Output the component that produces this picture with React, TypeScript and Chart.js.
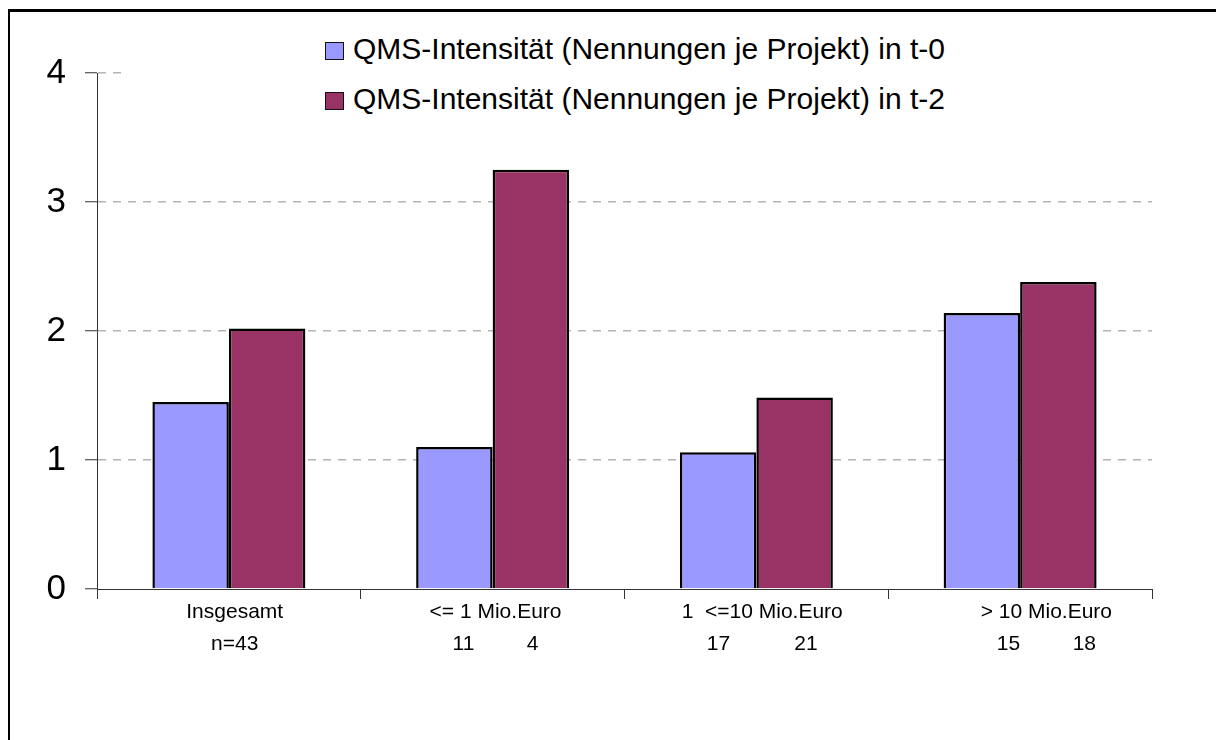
import React, { useEffect, useRef } from "react";
import { Chart, registerables } from "chart.js";

Chart.register(...registerables);

const FONT = "'Liberation Sans', Arial, sans-serif";

const categories: string[][] = [
  ["  Insgesamt", "  n=43"],
  [" <= 1 Mio.Euro", " 11         4"],
  ["  1  <=10 Mio.Euro", "  17           21"],
  ["         > 10 Mio.Euro", "         15         18"],
];
const seriesLabels = [
  "QMS-Intensität (Nennungen je Projekt) in t-0",
  "QMS-Intensität (Nennungen je Projekt) in t-2",
];
const seriesT0 = [1.45, 1.1, 1.06, 2.14];
const seriesT2 = [2.02, 3.25, 1.485, 2.38];
const seriesColors = ["#9999FF", "#993366"];
const yMin = 0;
const yMax = 4;
const yStep = 1;

export default function App() {
  const canvasRef = useRef<HTMLCanvasElement | null>(null);

  useEffect(() => {
    if (!canvasRef.current) return;
    const chart = new Chart(canvasRef.current, {
      type: "bar",
      data: {
        labels: categories,
        datasets: [
          {
            label: seriesLabels[0],
            data: seriesT0,
            backgroundColor: seriesColors[0],
            borderColor: "#000",
            borderWidth: 2.5,
            barPercentage: 1,
            categoryPercentage: 0.58,
          },
          {
            label: seriesLabels[1],
            data: seriesT2,
            backgroundColor: seriesColors[1],
            borderColor: "#000",
            borderWidth: 2.5,
            barPercentage: 1,
            categoryPercentage: 0.58,
          },
        ],
      },
      options: {
        animation: false,
        responsive: true,
        maintainAspectRatio: false,
        layout: { padding: { left: 0, right: 64, top: 73, bottom: 71 } },
        plugins: {
          legend: { display: false },
          tooltip: { enabled: false },
        },
        scales: {
          x: {
            grid: {
              offset: true,
              drawOnChartArea: false,
              drawTicks: true,
              tickLength: 10,
              tickColor: "#333",
              tickWidth: 1,
            },
            border: { display: true, color: "#333", width: 1 },
            ticks: {
              color: "#000",
              font: { family: FONT, size: 21, lineHeight: 1.52 },
              padding: -3,
              maxRotation: 0,
              autoSkip: false,
            },
            afterFit: (s: any) => {
              s.height = 80;
            },
          },
          y: {
            min: yMin,
            max: yMax,
            ticks: {
              stepSize: yStep,
              color: "#000",
              font: { family: FONT, size: 35 },
              padding: 19,
            },
            grid: {
              color: (ctx: any) =>
                ctx.tick && ctx.tick.value === 0 ? "rgba(0,0,0,0)" : "#b4b4b4",
              lineWidth: 1.5,
              tickColor: "#333",
              tickLength: 12,
              tickWidth: 1,
              tickBorderDash: [],
            },
            border: { display: true, color: "#333", width: 1, dash: [8, 7] },
            afterFit: (s: any) => {
              s.width = 97;
            },
          },
        },
      },
    });
    return () => chart.destroy();
  }, []);

  const legendRow = (i: number, boxTop: number, textTop: number) => (
    <React.Fragment key={i}>
      <div
        style={{
          position: "fixed",
          left: 325,
          top: boxTop,
          width: 17,
          height: 16,
          background: seriesColors[i],
          border: "1.5px solid #111",
        }}
      />
      <div
        style={{
          position: "fixed",
          left: 353,
          top: textTop,
          fontFamily: FONT,
          fontSize: 30,
          lineHeight: "30px",
          color: "#000",
          whiteSpace: "nowrap",
        }}
      >
        {seriesLabels[i]}
      </div>
    </React.Fragment>
  );

  return (
    <div>
      <div
        style={{
          position: "fixed",
          left: 8,
          top: 9,
          width: 1300,
          height: 900,
          borderLeft: "2px solid #000",
          borderTop: "3px solid #000",
          background: "#fff",
        }}
      />
      <div style={{ position: "fixed", left: 0, top: 0, width: 1216, height: 740 }}>
        <canvas ref={canvasRef} />
      </div>
      <div
        style={{
          position: "fixed",
          left: 126,
          top: 24,
          width: 1040,
          height: 100,
          background: "#fff",
        }}
      />
      {legendRow(0, 42, 34)}
      {legendRow(1, 92, 84)}
    </div>
  );
}
